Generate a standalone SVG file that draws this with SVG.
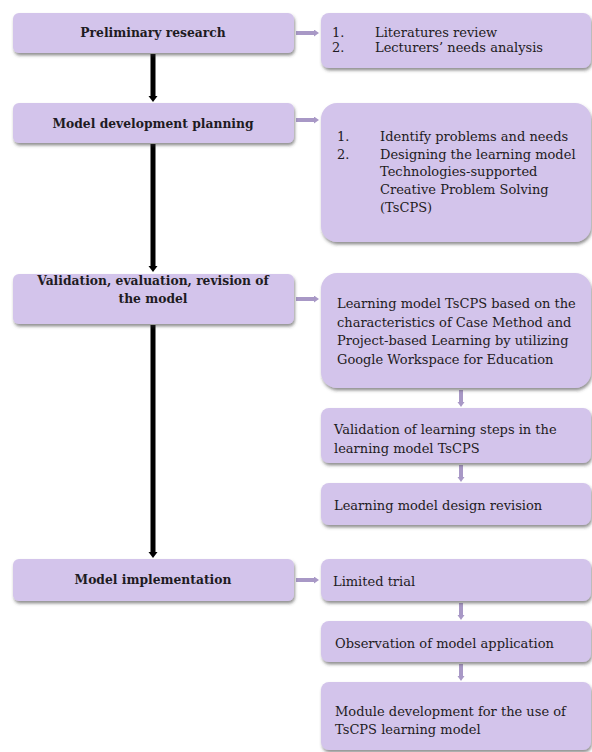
<svg xmlns="http://www.w3.org/2000/svg" width="592" height="752" viewBox="0 0 592 752">
<defs>
<filter id="sh" x="-10%" y="-20%" width="120%" height="150%">
<feDropShadow dx="1" dy="2.5" stdDeviation="1.5" flood-color="#3a3a3a" flood-opacity="0.55"/>
</filter>
<marker id="bh" markerWidth="10" markerHeight="10" refX="1" refY="4.5" orient="auto" markerUnits="userSpaceOnUse">
<path d="M0,0 L6,4.5 L0,9 Z" fill="#000"/>
</marker>
<marker id="ph" markerWidth="10" markerHeight="10" refX="1" refY="3.5" orient="auto" markerUnits="userSpaceOnUse">
<path d="M0,0 L5,3.5 L0,7 Z" fill="#a898c6"/>
</marker>
</defs>
<style>
.box{fill:#d3c4eb;filter:url(#sh);}
.t{font-family:"DejaVu Serif","Liberation Serif",serif;font-size:13px;fill:#1e1b22;}
.b{font-family:"DejaVu Serif","Liberation Serif",serif;font-size:12.3px;font-weight:bold;fill:#1e1b22;text-anchor:middle;}
.blk{stroke:#000;stroke-width:5;fill:none;marker-end:url(#bh);}
.pur{stroke:#a898c6;stroke-width:4;fill:none;marker-end:url(#ph);}
</style>
<g id="connectors">
<line class="blk" x1="153" y1="54" x2="153" y2="97"/>
<line class="blk" x1="153" y1="144" x2="153" y2="267"/>
<line class="blk" x1="153" y1="325" x2="153" y2="553"/>
<line class="pur" x1="296" y1="33" x2="315" y2="33"/>
<line class="pur" x1="296" y1="120" x2="315" y2="120"/>
<line class="pur" x1="296" y1="299" x2="315" y2="299"/>
<line class="pur" x1="296" y1="580" x2="315" y2="580"/>
<line class="pur" x1="461" y1="390" x2="461" y2="403"/>
<line class="pur" x1="461" y1="465" x2="461" y2="478"/>
<line class="pur" x1="461" y1="603" x2="461" y2="616"/>
<line class="pur" x1="461" y1="664" x2="461" y2="677"/>
</g>
<g id="n1"><rect class="box" x="13" y="13" width="281" height="40" rx="6"/><text class="b" x="153" y="37">Preliminary research</text></g>
<g id="n2"><rect class="box" x="13" y="103" width="281" height="40" rx="6"/><text class="b" x="153" y="128">Model development planning</text></g>
<g id="n3"><rect class="box" x="13" y="274" width="281" height="50" rx="6"/><text class="b" x="153" y="285">Validation, evaluation, revision of</text><text class="b" x="153" y="303">the model</text></g>
<g id="n4"><rect class="box" x="13" y="559" width="281" height="42" rx="6"/><text class="b" x="153" y="584">Model implementation</text></g>
<g id="r1"><rect class="box" x="321" y="13" width="270" height="55" rx="8"/><text class="t" x="332" y="37">1.</text><text class="t" x="375" y="37">Literatures review</text><text class="t" x="332" y="52">2.</text><text class="t" x="375" y="52">Lecturers’ needs analysis</text></g>
<g id="r2"><rect class="box" x="321" y="103" width="270" height="139" rx="16"/><text class="t" x="337" y="141">1.</text><text class="t" x="380" y="141">Identify problems and needs</text><text class="t" x="337" y="159">2.</text><text class="t" x="380" y="159">Designing the learning model</text><text class="t" x="380" y="176">Technologies-supported</text><text class="t" x="380" y="194">Creative Problem Solving</text><text class="t" x="380" y="212">(TsCPS)</text></g>
<g id="r3"><rect class="box" x="321" y="273" width="270" height="115" rx="16"/><text class="t" x="337" y="308">Learning model TsCPS based on the</text><text class="t" x="337" y="326.5">characteristics of Case Method and</text><text class="t" x="337" y="345">Project-based Learning by utilizing</text><text class="t" x="337" y="363.5">Google Workspace for Education</text></g>
<g id="r4"><rect class="box" x="321" y="408" width="270" height="55" rx="8"/><text class="t" x="334" y="434">Validation of learning steps in the</text><text class="t" x="334" y="453">learning model TsCPS</text></g>
<g id="r5"><rect class="box" x="321" y="483" width="270" height="42" rx="8"/><text class="t" x="334" y="510">Learning model design revision</text></g>
<g id="r6"><rect class="box" x="321" y="559" width="270" height="42" rx="8"/><text class="t" x="333" y="586">Limited trial</text></g>
<g id="r7"><rect class="box" x="321" y="621" width="270" height="41" rx="8"/><text class="t" x="335" y="648">Observation of model application</text></g>
<g id="r8"><rect class="box" x="321" y="682" width="270" height="68" rx="8"/><text class="t" x="335" y="716">Module development for the use of</text><text class="t" x="335" y="734">TsCPS learning model</text></g>
</svg>
